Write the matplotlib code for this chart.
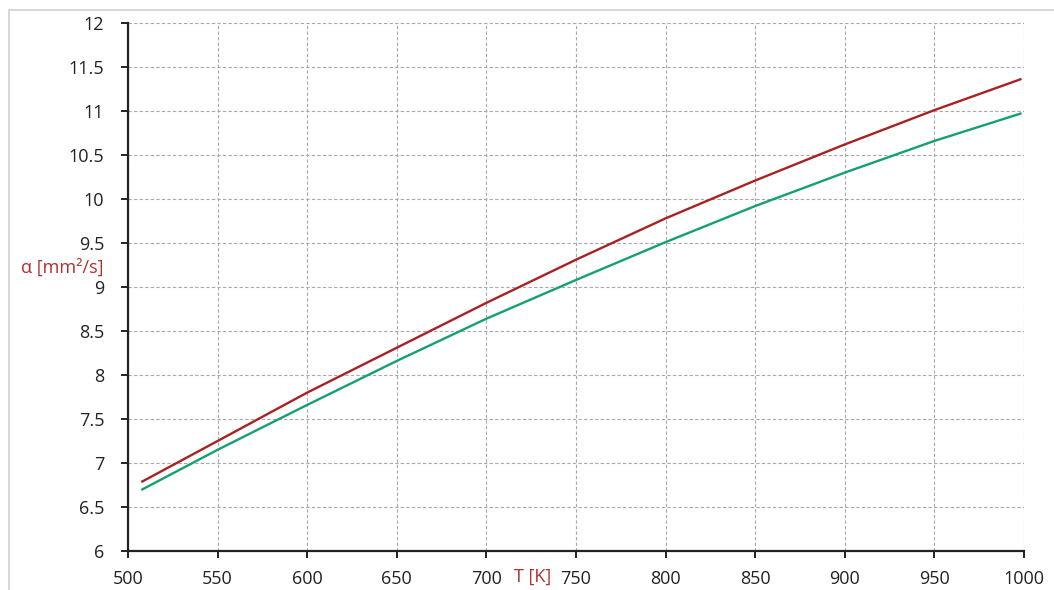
import matplotlib.pyplot as plt
from matplotlib.patches import Rectangle

# data
T = [508, 550, 600, 650, 700, 750, 800, 850, 900, 950, 998]
alpha_red = [6.79, 7.25, 7.80, 8.31, 8.82, 9.31, 9.78, 10.21, 10.62, 11.01, 11.36]
alpha_green = [6.70, 7.15, 7.66, 8.16, 8.64, 9.08, 9.51, 9.92, 10.30, 10.66, 10.97]
x_ticks = [500, 550, 600, 650, 700, 750, 800, 850, 900, 950, 1000]
y_ticks = [6, 6.5, 7, 7.5, 8, 8.5, 9, 9.5, 10, 10.5, 11, 11.5, 12]
y_tick_labels = ['6', '6.5', '7', '7.5', '8', '8.5', '9', '9.5', '10', '10.5', '11', '11.5', '12']

plt.rcParams['font.family'] = ['Open Sans', 'DejaVu Sans']

fig = plt.figure(figsize=(10.54, 5.9), dpi=100, facecolor='white')

# light outer frame (runs off the right and bottom edges)
fig.patches.append(Rectangle((9 / 1054, -0.1), 1.2, 1.1 - 10 / 590, transform=fig.transFigure,
                             fill=False, edgecolor='#cfcfcf', linewidth=1.2))

ax = fig.add_axes([128 / 1054, 39 / 590, 896 / 1054, 528 / 590])

ax.plot(T, alpha_red, color='#a82222', linewidth=1.7)
ax.plot(T, alpha_green, color='#16a072', linewidth=1.7)

ax.set_xlim(500, 1000)
ax.set_ylim(6, 12)
ax.set_xticks(x_ticks)
ax.set_yticks(y_ticks)
ax.set_yticklabels(y_tick_labels)

ax.grid(True, color='#a8a8a8', linestyle=(0, (3, 2)), linewidth=0.8)
ax.set_axisbelow(True)

for s in ['top', 'right']:
    ax.spines[s].set_visible(False)
for s in ['left', 'bottom']:
    ax.spines[s].set_color('#222222')
    ax.spines[s].set_linewidth(1.6)

ax.tick_params(axis='both', direction='out', length=5, width=1.4, colors='#222222',
               labelsize=13, labelcolor='#222222')
ax.tick_params(axis='y', pad=12)
ax.tick_params(axis='x', pad=9)

# axis labels placed like the original
fig.text(62 / 1054, 1 - 268 / 590, 'α [mm²/s]', color='#b0302f', fontsize=13,
         ha='center', va='center')
fig.text(533 / 1054, 1 - 577 / 590, 'T [K]', color='#b0302f', fontsize=13,
         ha='center', va='center')

fig.savefig('out.png', dpi=100, facecolor='white')
